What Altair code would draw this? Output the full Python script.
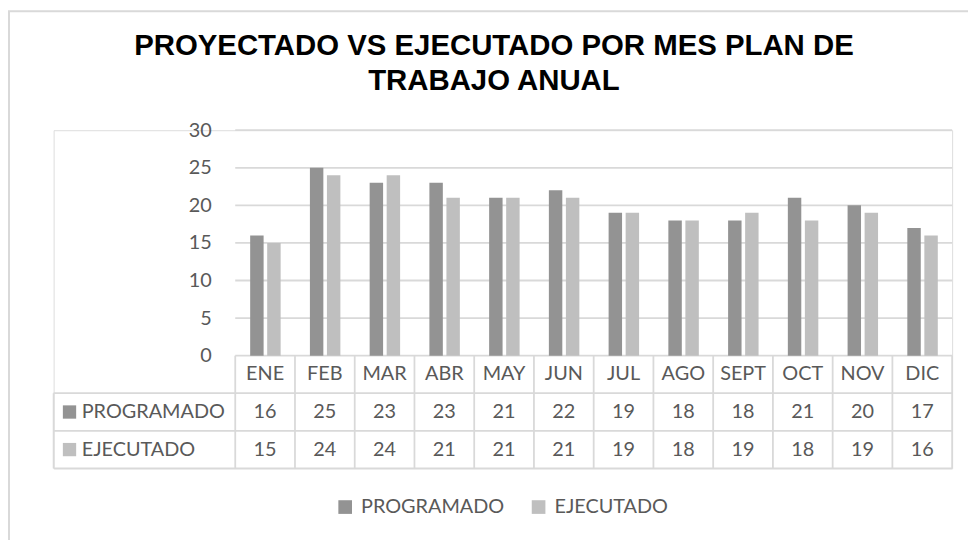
import altair as alt
import pandas as pd

# ---- data ----
months = ["ENE", "FEB", "MAR", "ABR", "MAY", "JUN", "JUL", "AGO", "SEPT", "OCT", "NOV", "DIC"]
programado = [16, 25, 23, 23, 21, 22, 19, 18, 18, 21, 20, 17]
ejecutado = [15, 24, 24, 21, 21, 21, 19, 18, 19, 18, 19, 16]
series = ["PROGRAMADO", "EJECUTADO"]
colors = ["#939393", "#bfbfbf"]
y_ticks = [0, 5, 10, 15, 20, 25, 30]
title_lines = ["PROYECTADO VS EJECUTADO POR MES PLAN DE", "TRABAJO ANUAL"]

# ---- layout constants (column units on x, value units on y) ----
LABEL_W = 3.04          # width of the table's label column, in month-columns
ROW_H = 5               # table row height in value units
N = len(months)
bar_off = {"PROGRAMADO": (0.25, 0.475), "EJECUTADO": (0.535, 0.76)}
row_center = {"PROGRAMADO": -1.5 * ROW_H, "EJECUTADO": -2.5 * ROW_H}

FONT = "Lato"
TXT = "#595959"
GRID = "#d9d9d9"

rows = []
for s, vals in zip(series, [programado, ejecutado]):
    for i, (m, v) in enumerate(zip(months, vals)):
        rows.append({"mes": m, "serie": s, "valor": v,
                     "x0": i + bar_off[s][0], "x1": i + bar_off[s][1],
                     "xc": i + 0.5, "yc": row_center[s]})
df = pd.DataFrame(rows)

hdr = pd.DataFrame({"mes": months, "xc": [i + 0.5 for i in range(N)], "yc": [-0.5 * ROW_H] * N})

row_lab = pd.DataFrame({"serie": series,
                        "xs": [-LABEL_W + 0.266] * 2,
                        "xt": [-LABEL_W + 0.47] * 2,
                        "yc": [row_center[s] for s in series]})

# grid + table borders
lines = []
for t in y_ticks:
    lines.append({"x": 0, "x2": N, "y": t, "y2": t})
for k in (1, 2, 3):
    lines.append({"x": -LABEL_W, "x2": N, "y": -k * ROW_H, "y2": -k * ROW_H})
for i in range(N + 1):
    lines.append({"x": i, "x2": i, "y": 0, "y2": -3 * ROW_H})
lines.append({"x": -LABEL_W, "x2": -LABEL_W, "y": -ROW_H, "y2": -3 * ROW_H})
lines_df = pd.DataFrame(lines)

W, H = 906, 341
xs = alt.Scale(domain=[-LABEL_W, N], nice=False, zero=False)
ys = alt.Scale(domain=[-3 * ROW_H, 30], nice=False, zero=False)
cs = alt.Scale(domain=series, range=colors)

one = pd.DataFrame({"a": [0]})

frame = alt.Chart(one).mark_rect(
    fill=None, stroke=GRID, strokeWidth=2
).encode(x=alt.value(-45), y=alt.value(-120), x2=alt.value(1100), y2=alt.value(800))

title = alt.Chart(one).mark_text(
    text=title_lines, font="Liberation Sans", fontSize=29.6, fontWeight="bold",
    color="#000000", align="center", baseline="alphabetic", lineHeight=35
).encode(x=alt.value(444), y=alt.value(-76))

rules = alt.Chart(lines_df).mark_rule(color=GRID, strokeWidth=1.8).encode(
    x=alt.X("x:Q", scale=xs, axis=None),
    x2="x2:Q",
    y=alt.Y("y:Q", scale=ys,
            axis=alt.Axis(values=y_ticks, domain=False, ticks=False, tickSize=0, grid=False,
                          labelFont=FONT, labelFontSize=20, labelColor=TXT,
                          labelPadding=0, offset=-159, title=None)),
    y2="y2:Q",
)

bars = alt.Chart(df).mark_bar().encode(
    x="x0:Q", x2="x1:Q",
    y="valor:Q", y2=alt.datum(0),
    color=alt.Color("serie:N", scale=cs, sort=series,
                    legend=alt.Legend(title=None, orient="none", direction="horizontal",
                                      legendX=284, legendY=370, symbolType="square",
                                      symbolSize=190, symbolStrokeWidth=0,
                                      labelFont=FONT, labelFontSize=20, labelColor=TXT,
                                      labelOffset=6, columnPadding=24, padding=0)),
)

vals = alt.Chart(df).mark_text(font=FONT, fontSize=20, color=TXT, baseline="middle").encode(
    x="xc:Q", y="yc:Q", text="valor:Q")

heads = alt.Chart(hdr).mark_text(font=FONT, fontSize=20, color=TXT, baseline="middle").encode(
    x="xc:Q", y="yc:Q", text="mes:N")

squares = alt.Chart(row_lab).mark_square(size=180, opacity=1, strokeWidth=0).encode(
    x="xs:Q", y="yc:Q", color=alt.Color("serie:N", scale=cs, sort=series))

labels = alt.Chart(row_lab).mark_text(font=FONT, fontSize=20, color=TXT, align="left",
                                      baseline="middle").encode(
    x="xt:Q", y="yc:Q", text="serie:N")

chart = alt.layer(frame, title, rules, bars, vals, heads, squares, labels).properties(
    width=W, height=H,
    padding={"left": 46, "top": 121, "right": 16, "bottom": 70},
    autosize=alt.AutoSizeParams(type="none"),
).configure_view(stroke=None).configure(background="white")

chart.save("out.html", embed_options={"renderer": "svg", "actions": False})
